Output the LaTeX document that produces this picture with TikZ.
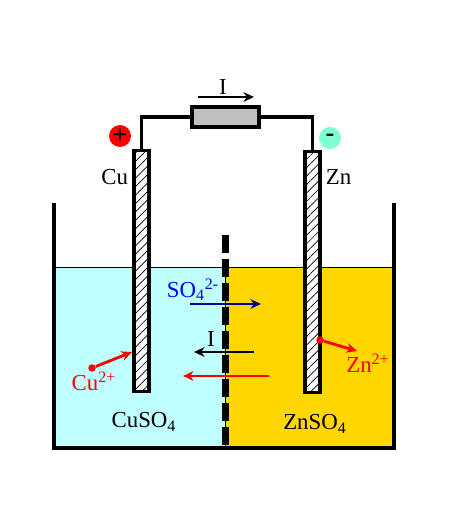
\documentclass[tikz,border=0pt]{standalone}
\usepackage{fontspec}
\setmainfont{Liberation Serif}
\usetikzlibrary{arrows.meta, patterns.meta}
\definecolor{cusolution}{RGB}{191, 255, 255}
\definecolor{znsolution}{RGB}{255, 215, 0}
\definecolor{loadgray}{RGB}{192, 192, 192}
\definecolor{minusgreen}{RGB}{127, 255, 212}
\definecolor{ionnavy}{RGB}{0, 0, 140}
\tikzset{
    electrode/.style={draw, line width=2pt, preaction={fill=white}, pattern={Lines[angle=45, distance=3.4pt, line width=0.4pt]}, minimum width=0.3cm, inner sep=0pt},
    wire/.style={line width=1.9pt},
    txt/.style={font=\fontsize{13}{15}\selectfont, inner sep=0pt},
    terminal/.style={circle, minimum size=0.44cm, inner sep=0pt, font=\bfseries\fontsize{15}{15}\selectfont},
    flow/.style={line width=1.6pt, -{Stealth[length=6pt,width=5.5pt]}},
    iondot/.style={circle, fill=red, minimum size=0.15cm, inner sep=0pt}
}
\begin{document}
\begin{tikzpicture}
    \useasboundingbox (0,0) rectangle (9.3,10.16);

    % Solutions
    \fill[cusolution] (1.08,1.2) rectangle (4.51,4.82);
    \fill[znsolution] (4.51,1.2) rectangle (7.88,4.82);
    \draw[line width=0.5pt] (1.08,4.82) -- (7.88,4.82);

    % Tank
    \draw[line width=1.9pt] (1.08,6.1) -- (1.08,1.2) -- (7.88,1.2) -- (7.88,6.1);

    % Porous wall
    \draw[line width=0.6pt] (4.51,4.82) -- (4.51,1.2);
    \draw[line width=3.5pt, dash pattern=on 0.36cm off 0.12cm] (4.51,5.46) -- (4.51,1.2);

    % Electrodes
    \node[electrode, minimum height=4.82cm] (cu) at (2.83,4.74) {};
    \node[electrode, minimum height=4.82cm] (zn) at (6.25,4.72) {};
    \node[txt, anchor=east] (culabel) at (2.57,6.62) {Cu};
    \node[txt, anchor=west] (znlabel) at (6.51,6.62) {Zn};

    % Load and wires
    \node[draw, line width=1.9pt, fill=loadgray, minimum width=1.34cm, minimum height=0.4cm, inner sep=0pt] (load) at (4.51,7.82) {};
    \draw[wire] (cu.north) |- (load.west);
    \draw[wire] (zn.north) |- (load.east);

    % Terminals
    \node[terminal, fill=red] (plus) at (2.4,7.44) {+};
    \node[terminal, fill=minusgreen] (minus) at (6.6,7.4) {-};

    % Current in the wire
    \coordinate (wirestart) at (3.96,8.22);
    \coordinate (wireend) at (5.08,8.22);
    \draw[flow] (wirestart) -- (wireend);
    \node[txt] (wirecurrent) at (4.46,8.42) {I};

    % Sulfate ions
    \coordinate (sostart) at (3.8,4.08);
    \coordinate (soend) at (5.22,4.08);
    \draw[flow, ionnavy] (sostart) -- (soend);
    \node[txt, blue] (so) at (3.86,4.36) {SO\textsubscript{4}\textsuperscript{2-}};

    % Current in the solution
    \coordinate (istart) at (5.08,3.12);
    \coordinate (iend) at (3.88,3.12);
    \draw[flow] (istart) -- (iend);
    \node[txt] (icurrent) at (4.22,3.38) {I};
    \coordinate (redstart) at (5.38,2.64);
    \coordinate (redend) at (3.66,2.64);
    \draw[flow, red, line width=1.2pt] (redstart) -- (redend);

    % Copper ions
    \node[iondot] (cudot) at (1.84,2.8) {};
    \coordinate (cuend) at (2.64,3.12);
    \draw[flow, red] (cudot) -- (cuend);
    \node[txt, red] (cuion) at (1.88,2.54) {Cu\textsuperscript{2+}};

    % Zinc ions
    \node[iondot] (zndot) at (6.4,3.36) {};
    \coordinate (znend) at (7.14,3.14);
    \draw[flow, red] (zndot) -- (znend);
    \node[txt, red] (znion) at (7.36,2.9) {Zn\textsuperscript{2+}};

    % Solution names
    \node[txt] (cusalt) at (2.88,1.72) {CuSO\textsubscript{4}};
    \node[txt] (znsalt) at (6.3,1.68) {ZnSO\textsubscript{4}};
\end{tikzpicture}
\end{document}
